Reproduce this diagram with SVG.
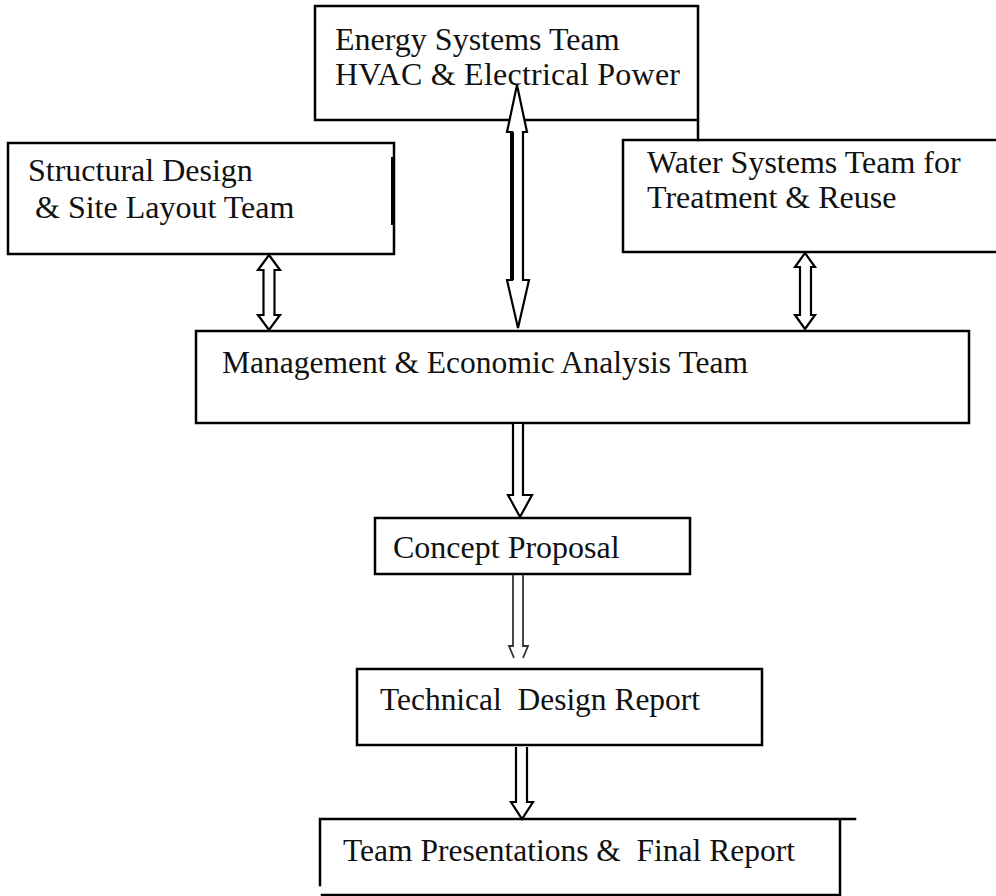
<svg xmlns="http://www.w3.org/2000/svg" width="996" height="896" viewBox="0 0 996 896">
  <style>
    .edge { fill: none; stroke: #000; stroke-width: 2.5; stroke-linecap: square; }
    .lbl { font-family: "Liberation Serif", "Times New Roman", serif; font-size: 32px; fill: #111; }
    .arrow { fill: #fff; stroke: #000; stroke-width: 2.2; stroke-linejoin: miter; }
  </style>
  <rect width="996" height="896" fill="#fff"/>

  <!-- team and deliverable boxes -->
  <g id="energy">
    <path class="edge" d="M315,6 H698 V140 M315,6 V120 H698"/>
    <text class="lbl" x="335" y="50">Energy Systems Team</text>
    <text class="lbl" x="335" y="85" textLength="345" lengthAdjust="spacing">HVAC &amp; Electrical Power</text>
  </g>

  <g id="structural">
    <path class="edge" d="M8,143 H394 V254 H8 Z"/>
    <line x1="392" y1="157" x2="392" y2="225" stroke="#000" stroke-width="2"/>
    <text class="lbl" x="28" y="181">Structural Design</text>
    <text class="lbl" x="35" y="218">&amp; Site Layout Team</text>
  </g>

  <g id="water">
    <path class="edge" d="M1000,140 H623 V252 H1000"/>
    <text class="lbl" x="647" y="173">Water Systems Team for</text>
    <text class="lbl" x="647" y="208">Treatment &amp; Reuse</text>
  </g>

  <g id="management">
    <path class="edge" d="M196,331 H969 V423 H196 Z"/>
    <text class="lbl" x="222" y="373" textLength="526" lengthAdjust="spacingAndGlyphs">Management &amp; Economic Analysis Team</text>
  </g>

  <g id="concept">
    <path class="edge" d="M375,518 H690 V574 H375 Z"/>
    <text class="lbl" x="393" y="558">Concept Proposal</text>
  </g>

  <g id="technical">
    <path class="edge" d="M357,669 H762 V745 H357 Z"/>
    <text class="lbl" x="380" y="710" xml:space="preserve" textLength="320" lengthAdjust="spacingAndGlyphs">Technical  Design Report</text>
  </g>

  <g id="final">
    <path class="edge" d="M320,819 H855 M840,819 V895 H322 M320,819 V885"/>
    <text class="lbl" x="343" y="861" xml:space="preserve" textLength="452" lengthAdjust="spacingAndGlyphs">Team Presentations &amp;  Final Report</text>
  </g>

  <!-- hollow block arrows between boxes -->
  <g id="connectors">
    <!-- structural <-> management -->
    <polygon class="arrow" points="269,255 280,270 274.5,270 274.5,315 280,315 269,330 258,315 263.5,315 263.5,270 258,270"/>
    <!-- energy <-> management -->
    <polygon class="arrow" points="517,85 527,132 523,132 523,280 529,280 518,328 507,280 512,280 512,132 507,132"/>
    <line x1="512" y1="132" x2="512" y2="280" stroke="#000" stroke-width="4"/>
    <!-- water <-> management -->
    <polygon class="arrow" points="805,253 815,267 811,267 811,315 815,315 805,329 795,315 800,315 800,267 795,267"/>
    <!-- management -> concept -->
    <polyline class="arrow" stroke-width="3" points="513,424 513,495 508,495 520,517 532,495 523,495 523,424"/>
    <!-- concept -> technical -->
    <polyline fill="#fff" stroke="#333" stroke-width="1.8" points="513,575 513,646 509,646 514,658"/>
    <polyline fill="#fff" stroke="#333" stroke-width="1.8" points="523,575 523,646 528,646 523,658"/>
    <!-- technical -> final -->
    <polyline class="arrow" points="516,747 516,802 511,802 522,819 533,802 527,802 527,747"/>
  </g>
</svg>
